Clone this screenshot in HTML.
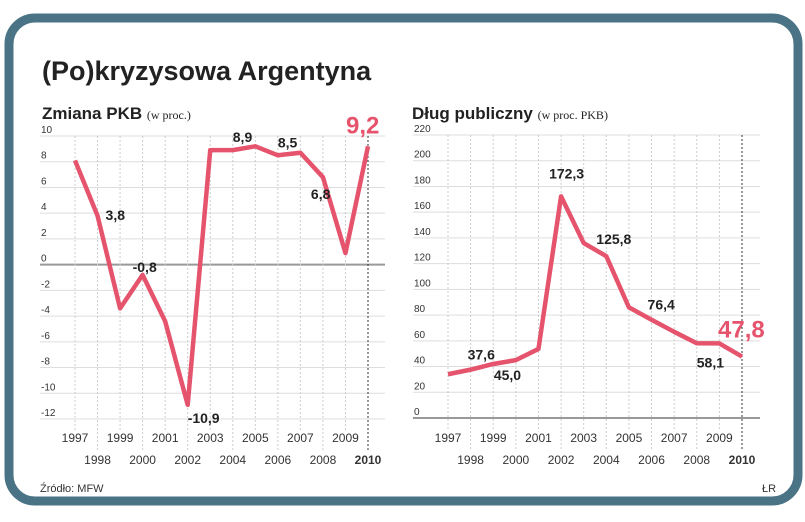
<!DOCTYPE html>
<html><head><meta charset="utf-8"><style>
body{margin:0;width:805px;height:517px;background:#fff;overflow:hidden;font-family:"Liberation Sans",sans-serif}
svg text{font-family:"Liberation Sans",sans-serif}
</style></head><body>
<svg width="805" height="517">
<rect x="9" y="18" width="789" height="483" rx="26" fill="none" stroke="#4a7386" stroke-width="9"/>
<text x="42" y="80" font-size="27" font-weight="bold" fill="#222">(Po)kryzysowa Argentyna</text>
<text x="42" y="119" font-size="17" font-weight="bold" fill="#222">Zmiana PKB <tspan font-size="12" font-weight="normal" font-family="Liberation Serif">(w proc.)</tspan></text>
<text x="412" y="119" font-size="17" font-weight="bold" fill="#222">Dług publiczny <tspan font-size="12" font-weight="normal" font-family="Liberation Serif">(w proc. PKB)</tspan></text>
<g id="left"></g><g id="right"></g>
<text x="40" y="492" font-size="11" fill="#333">Źródło: MFW</text>
<text x="762" y="492" font-size="11" fill="#333">ŁR</text>
</svg>
<script>
const years=[1997,1998,1999,2000,2001,2002,2003,2004,2005,2006,2007,2008,2009,2010];
const gdp=[8.1,3.8,-3.4,-0.8,-4.4,-10.9,8.9,8.9,9.2,8.5,8.7,6.8,0.9,9.2];
const gdpTicks=[10,8,6,4,2,0,-2,-4,-6,-8,-10,-12];
const gdpLabels=[[1,"3,8",8,4],[3,"-0,8",-10,-3],[5,"-10,9",0,18],[7,"8,9",0,-8],[9,"8,5",0,-8],[11,"6,8",-12,22]];
const debt=[34,37.6,42,45,53.7,172.3,136,125.8,86,76.4,67,58.1,58,47.8];
const debtTicks=[220,200,180,160,140,120,100,80,60,40,20,0];
const debtLabels=[[1,"37,6",-3,-10],[3,"45,0",-22,20],[5,"172,3",-12,-18],[7,"125,8",-10,-12],[9,"76,4",-4,-10],[11,"58,1",0,24]];
const NS="http://www.w3.org/2000/svg";
function mk(p,t,a){const e=document.createElementNS(NS,t);for(const k in a)e.setAttribute(k,a[k]);p.appendChild(e);return e;}
function draw(g,vals,ticks,labels,x0,x1,gx0,gx1,yTop,vTop,yBot,vBot,zeroY,last,lastDx,lastDy,name){
 const X=i=>x0+(x1-x0)*i/(years.length-1);
 const Y=v=>yTop+(yBot-yTop)*(v-vTop)/(vBot-vTop);
 ticks.forEach(t=>{
  const l=mk(g,"line",{x1:gx0,x2:gx1,y1:Y(t),y2:Y(t),stroke:t===0?"#999":"#ddd","stroke-width":t===0?2:1});
  
  
  const tx=mk(g,"text",{x:gx0+1,y:Y(t)-3,"font-size":10,fill:"#333"});tx.textContent=t;
  
  
 });
 years.forEach((yr,i)=>{
  const isLast=i===years.length-1;
  const v=mk(g,"line",{x1:X(i),x2:X(i),y1:Y(ticks[0]),y2:i%2?450:430,stroke:isLast?"#333":"#ccc","stroke-dasharray":"2,2","stroke-width":1});
  
  
  const t=mk(g,"text",{x:X(i),y:i%2?464:442,"font-size":12,"text-anchor":"middle",fill:"#333","font-weight":isLast?"bold":"normal"});t.textContent=yr;
  
  
 });
 const pl=mk(g,"polyline",{points:vals.map((v,i)=>X(i)+","+Y(v)).join(" "),fill:"none",stroke:"#e5546c","stroke-width":4.5,"stroke-linejoin":"round"});
 
 
 labels.forEach(([i,s,dx,dy])=>{
  const t=mk(g,"text",{x:X(i)+dx,y:Y(vals[i])+dy,"font-size":14,"font-weight":"bold",fill:"#222"});t.textContent=s;
  
  
 });
 const t=mk(g,"text",{x:X(13)+lastDx,y:Y(vals[13])+lastDy,"font-size":24,"font-weight":"bold",fill:"#e5546c"});t.textContent=last;
 
 
}
draw(document.getElementById("left"),gdp,gdpTicks,gdpLabels,75,368,40,385,136,10,419,-12,265,"9,2",-22,-13,"gdp");
draw(document.getElementById("right"),debt,debtTicks,debtLabels,448,742,413,760,135,220,418,0,418,"47,8",-24,-19,"debt");
</script>
</body></html>
